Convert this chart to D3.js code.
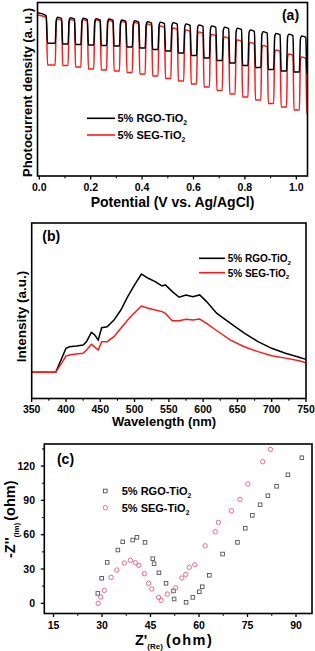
<!DOCTYPE html>
<html><head><meta charset="utf-8">
<script src="https://cdn.jsdelivr.net/npm/d3@7"></script>
<style>
body{margin:0;background:#fff}
svg{display:block}
text{font-family:"Liberation Sans",Arial,sans-serif;font-weight:bold;fill:#000}
</style>
</head><body>
<svg id="chart" width="315" height="651"></svg>
<script>
// ---------------- DATA ----------------
const seriesNames = ["5% RGO-TiO", "5% SEG-TiO"];
// (a) chopped-light photocurrent
const potentialTicks = [0.0, 0.2, 0.4, 0.6, 0.8, 1.0];
const potentialMinor = [0.1, 0.3, 0.5, 0.7, 0.9];
const lightOn  = [0.062,0.112,0.162,0.212,0.262,0.312,0.362,0.412,0.462,0.512,0.562,0.612,0.662,0.712,0.762,0.812,0.862,0.912,0.962,1.012];
const lightOff = [0.088,0.138,0.188,0.238,0.288,0.338,0.388,0.438,0.488,0.538,0.588,0.638,0.688,0.738,0.788,0.838,0.888,0.938,0.988,1.038];
const rgoStart = [9.41, 9.25, 7.65];
const rgoPeaks = [9.15,9.12,9.09,9.07,9.05,8.99,8.95,8.89,8.86,8.84,8.76,8.70,8.65,8.57,8.51,8.41,8.32,8.22,8.17,8.07];
const rgoDarks = [7.61,7.58,7.55,7.52,7.49,7.44,7.38,7.29,7.20,7.09,6.95,6.80,6.66,6.51,6.37,6.25,6.14,6.05,5.99,5.91];
const segStart = [9.28, 9.15, 6.40];
const segPeaks = [9.03,9.02,9.01,8.99,8.96,8.90,8.85,8.76,8.65,8.53,8.41,8.30,8.16,8.01,7.84,7.69,7.52,7.26,7.03,6.86];
const segDarks = [6.37,6.28,6.17,6.11,6.05,5.97,5.88,5.76,5.62,5.48,5.30,5.13,4.93,4.73,4.55,4.38,4.18,3.98,3.80,3.57];
// (b) PL spectra
const wavelength = [350,385,395,400,405,415,425,430,437,442,447,452,460,470,480,490,500,510,520,530,540,545,555,565,575,585,595,605,620,640,660,680,700,720,740,750];
const rgoPL = [1.49,1.49,2.40,2.86,2.95,2.99,3.05,3.24,3.77,3.62,3.33,4.03,4.09,4.47,5.04,5.80,6.47,7.09,6.85,6.66,6.41,6.47,6.09,5.77,5.90,5.80,5.90,5.52,4.85,4.28,3.72,3.24,2.86,2.58,2.35,2.23];
const segPL = [1.49,1.49,2.10,2.42,2.48,2.54,2.58,2.76,3.09,2.93,2.76,3.24,3.24,3.52,4.00,4.47,4.89,5.27,5.14,5.04,4.95,4.85,4.43,4.43,4.51,4.47,4.53,4.28,3.86,3.33,2.95,2.67,2.44,2.30,2.15,2.04];
const wavelengthTicks = [350,400,450,500,550,600,650,700,750];
const wavelengthMinor = [375,425,475,525,575,625,675,725];
// (c) Nyquist
const rgoZre = [28.7,29.9,31.6,34.9,36.4,39.5,40.8,43.3,45.7,46.1,47.6,49.8,52.1,52.3,56.0,58.1,60.1,61.0,63.2,67.3,71.9,74.3,76.5,78.9,81.3,84.0,87.5,91.8];
const rgoZim = [8.7,21.9,35.8,46.6,53.8,55.3,57.7,53.3,39.0,34.6,26.7,17.5,10.8,3.8,0.9,5.2,10.1,14.5,24.5,43.1,53.3,65.6,76.9,86.2,94.1,102.3,112.4,127.3];
const segZre = [28.8,29.6,30.7,32.8,34.6,36.9,38.8,40.3,41.4,43.1,44.4,45.4,47.5,48.3,50.2,52.8,54.7,55.9,57.0,58.7,61.9,65.0,66.0,70.0,72.7,75.1,79.7,82.1];
const segZim = [0.0,5.5,11.3,22.7,29.1,35.2,37.6,35.5,33.2,25.9,17.5,12.5,5.2,2.6,8.1,13.6,22.1,25.3,31.5,33.7,50.3,62.6,70.8,80.9,90.9,104.3,123.8,134.6];
const zreTicks = [15,30,45,60,75,90];
const zreMinor = [22.5,37.5,52.5,67.5,82.5];
const zimTicks = [0,30,60,90,120];
const zimMinor = [15,45,75,105,135];

// ---------------- DRAW ----------------
const svg = d3.select("#chart");
const RED = "#ff1a1a", SQ = "#555", CI = "#f2577d";

function frame(x0, y0, x1, y1) {
  svg.append("rect").attr("x", x0).attr("y", y0).attr("width", x1 - x0).attr("height", y1 - y0)
    .attr("fill", "none").attr("stroke", "#000").attr("stroke-width", 1.6);
}
function xTicks(scale, y, major, minor, fmt, fs, labY) {
  const g = svg.append("g");
  major.forEach(v => {
    g.append("line").attr("x1", scale(v)).attr("x2", scale(v)).attr("y1", y).attr("y2", y + 3.5).attr("stroke", "#000").attr("stroke-width", 1.3);
    g.append("text").attr("x", scale(v)).attr("y", labY).attr("text-anchor", "middle").attr("font-size", fs).text(fmt(v));
  });
  minor.forEach(v => g.append("line").attr("x1", scale(v)).attr("x2", scale(v)).attr("y1", y).attr("y2", y + 2.2).attr("stroke", "#000").attr("stroke-width", 1.1));
}
function legendText(x, y, name, fs) {
  const t = svg.append("text").attr("x", x).attr("y", y).attr("font-size", fs).text(name);
  t.append("tspan").attr("font-size", fs * 0.62).attr("dy", fs * 0.28).text("2");
}

// ===== Panel (a) =====
const A = {x0: 37.5, x1: 307.5, y0: 2.5, y1: 176};
const xA = d3.scaleLinear().domain([-0.007, 1.0436]).range([A.x0, A.x1]);
const yA = d3.scaleLinear().domain([0, 10]).range([A.y1, A.y0]);
svg.append("clipPath").attr("id", "clipA").append("rect").attr("x", A.x0).attr("y", A.y0).attr("width", A.x1 - A.x0).attr("height", A.y1 - A.y0);
function wave(start, peaks, darks) {
  const pts = [[xA.domain()[0], start[0]], [0.027, start[1]], [0.032, start[2]]];
  let prev = start[2];
  peaks.forEach((p, k) => {
    pts.push([lightOn[k], prev]);
    pts.push([lightOn[k] + 0.004, p - 0.18]);
    pts.push([lightOn[k] + 0.009, p]);
    pts.push([lightOff[k] - 0.001, p - 0.08]);
    pts.push([lightOff[k] + 0.003, darks[k]]);
    prev = darks[k];
  });
  pts.push([xA.domain()[1], prev]);
  return pts;
}
const lineA = d3.line().x(d => xA(d[0])).y(d => yA(d[1])).curve(d3.curveMonotoneX);
svg.append("path").attr("d", lineA(wave(segStart, segPeaks, segDarks))).attr("fill", "none").attr("stroke", RED).attr("stroke-width", 1.5).attr("clip-path", "url(#clipA)");
svg.append("path").attr("d", lineA(wave(rgoStart, rgoPeaks, rgoDarks))).attr("fill", "none").attr("stroke", "#000").attr("stroke-width", 1.5).attr("clip-path", "url(#clipA)");
frame(A.x0, A.y0, A.x1, A.y1);
xTicks(xA, A.y1, potentialTicks, potentialMinor, d3.format(".1f"), 10.5, 190.5);
svg.append("text").attr("x", 172.5).attr("y", 206.5).attr("text-anchor", "middle").attr("font-size", 14).text("Potential (V vs. Ag/AgCl)");
svg.append("text").attr("transform", "translate(31.5,92.5) rotate(-90)").attr("text-anchor", "middle").attr("font-size", 13).text("Photocurrent density (a. u.)");
svg.append("text").attr("x", 290.5).attr("y", 19.5).attr("text-anchor", "middle").attr("font-size", 14).text("(a)");
svg.append("line").attr("x1", 87).attr("x2", 115).attr("y1", 118.3).attr("y2", 118.3).attr("stroke", "#000").attr("stroke-width", 1.6);
svg.append("line").attr("x1", 87).attr("x2", 115).attr("y1", 135).attr("y2", 135).attr("stroke", RED).attr("stroke-width", 1.6);
legendText(117.5, 122.3, seriesNames[0], 11);
legendText(117.5, 139, seriesNames[1], 11);

// ===== Panel (b) =====
const B = {x0: 31.7, x1: 306, y0: 223, y1: 398.5};
const xB = d3.scaleLinear().domain([350, 750]).range([B.x0, B.x1]);
const yB = d3.scaleLinear().domain([0, 10]).range([B.y1, B.y0]);
const lineB = d3.line().x((d, i) => xB(wavelength[i])).y(d => yB(d));
svg.append("path").attr("d", lineB(rgoPL)).attr("fill", "none").attr("stroke", "#000").attr("stroke-width", 1.5);
svg.append("path").attr("d", lineB(segPL)).attr("fill", "none").attr("stroke", RED).attr("stroke-width", 1.5);
frame(B.x0, B.y0, B.x1, B.y1);
xTicks(xB, B.y1, wavelengthTicks, wavelengthMinor, d3.format("d"), 10.5, 412.5);
svg.append("text").attr("x", 164).attr("y", 426).attr("text-anchor", "middle").attr("font-size", 13).text("Wavelength (nm)");
svg.append("text").attr("transform", "translate(25.5,316.5) rotate(-90)").attr("text-anchor", "middle").attr("font-size", 13.5).text("Intensity (a.u.)");
svg.append("text").attr("x", 51.3).attr("y", 241).attr("text-anchor", "middle").attr("font-size", 14).text("(b)");
svg.append("line").attr("x1", 199).attr("x2", 225).attr("y1", 258.3).attr("y2", 258.3).attr("stroke", "#000").attr("stroke-width", 1.6);
svg.append("line").attr("x1", 199).attr("x2", 225).attr("y1", 272.7).attr("y2", 272.7).attr("stroke", RED).attr("stroke-width", 1.6);
legendText(227.7, 262, seriesNames[0], 10);
legendText(227.7, 276.5, seriesNames[1], 10);

// ===== Panel (c) =====
const C = {x0: 44.3, x1: 312, y0: 444, y1: 613.5};
const xC = d3.scaleLinear().domain([12.15, 94.95]).range([C.x0, C.x1]);
const yC = d3.scaleLinear().domain([-8.9, 139.3]).range([C.y1, C.y0]);
frame(C.x0, C.y0, C.x1, C.y1);
xTicks(xC, C.y1, zreTicks, zreMinor, d3.format("d"), 10.5, 628.5);
const gy = svg.append("g");
zimTicks.forEach(v => {
  gy.append("line").attr("x1", C.x0 - 3.5).attr("x2", C.x0).attr("y1", yC(v)).attr("y2", yC(v)).attr("stroke", "#000").attr("stroke-width", 1.3);
  gy.append("text").attr("x", 35).attr("y", yC(v) + 3.7).attr("text-anchor", "end").attr("font-size", 10.5).text(v);
});
zimMinor.forEach(v => gy.append("line").attr("x1", C.x0 - 2.2).attr("x2", C.x0).attr("y1", yC(v)).attr("y2", yC(v)).attr("stroke", "#000").attr("stroke-width", 1.1));
const sq = 3.6;
svg.append("g").selectAll("rect").data(rgoZre).join("rect")
  .attr("x", (d) => xC(d) - sq / 2).attr("y", (d, i) => yC(rgoZim[i]) - sq / 2)
  .attr("width", sq).attr("height", sq).attr("fill", "none").attr("stroke", SQ).attr("stroke-width", 0.9);
svg.append("g").selectAll("circle").data(segZre).join("circle")
  .attr("cx", d => xC(d)).attr("cy", (d, i) => yC(segZim[i])).attr("r", 2.2)
  .attr("fill", "none").attr("stroke", CI).attr("stroke-width", 0.9);
svg.append("text").attr("x", 65.5).attr("y", 463.5).attr("text-anchor", "middle").attr("font-size", 14).text("(c)");
svg.append("rect").attr("x", 105.3 - sq / 2).attr("y", 491 - sq / 2).attr("width", sq).attr("height", sq).attr("fill", "none").attr("stroke", SQ).attr("stroke-width", 0.9);
svg.append("circle").attr("cx", 105.3).attr("cy", 507.7).attr("r", 2.2).attr("fill", "none").attr("stroke", CI).attr("stroke-width", 0.9);
legendText(121.7, 494.8, seriesNames[0], 11);
legendText(121.7, 511.5, seriesNames[1], 11);
// x title
const xt = svg.append("text").attr("x", 135).attr("y", 644.5).attr("font-size", 14.5);
xt.append("tspan").text("Z'");
xt.append("tspan").attr("font-size", 8).attr("dy", 4).text("(Re)");
xt.append("tspan").attr("font-size", 14.5).attr("dy", -4).attr("dx", 3).attr("letter-spacing", 1.4).text("(ohm)");
// y title
const yt = svg.append("text").attr("transform", "translate(15,558) rotate(-90)").attr("font-size", 14.5);
yt.append("tspan").text("-Z''");
yt.append("tspan").attr("font-size", 8).attr("dy", 4).text("(Im)");
yt.append("tspan").attr("dy", -4).attr("dx", 2).text("(ohm)");
</script>
</body></html>
